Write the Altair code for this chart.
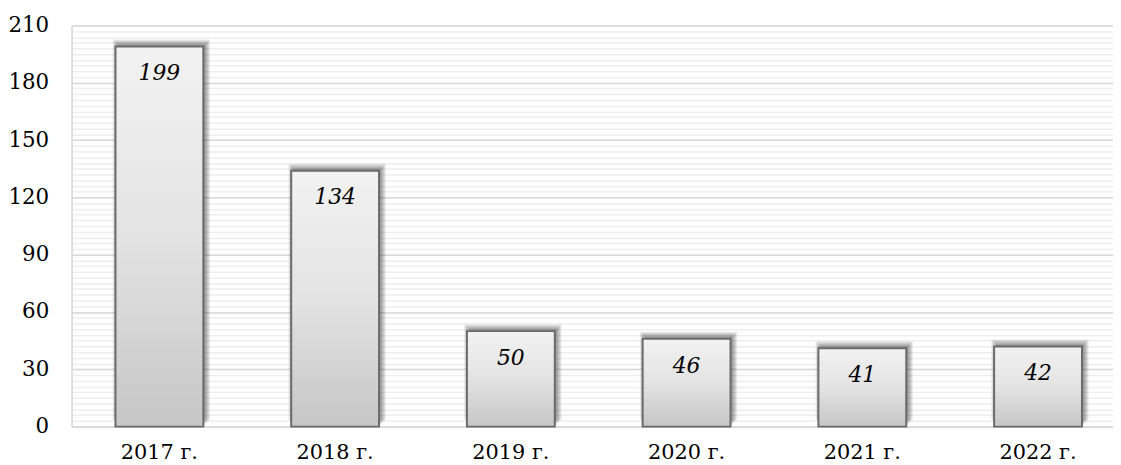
import altair as alt
import pandas as pd

years = ["2017 г.", "2018 г.", "2019 г.", "2020 г.", "2021 г.", "2022 г."]
values = [199, 134, 50, 46, 41, 42]
major_ticks = [0, 30, 60, 90, 120, 150, 180, 210]
minor_ticks = list(range(0, 211, 3))

df = pd.DataFrame({"year": years, "value": values})

FONT = "DejaVu Serif"

xscale = alt.Scale(domain=years, range=[0, 1062], paddingInner=0.5, paddingOuter=0.25)
yscale = alt.Scale(domain=[0, 210], nice=False, zero=True)

base = alt.Chart(df)

xenc_plain = alt.X("year:N", scale=xscale, sort=years, axis=None)
yenc_plain = alt.Y("value:Q", scale=yscale, axis=None)

minor = base.mark_bar(opacity=0).encode(
    x=xenc_plain,
    y=alt.Y("value:Q", scale=yscale,
            axis=alt.Axis(values=minor_ticks, labels=False, ticks=False, domain=False,
                          grid=True, gridColor="#eeeeee", gridWidth=1.5, title=None,
                          orient="left")),
)

major = base.mark_bar(opacity=0).encode(
    x=alt.X("year:N", scale=xscale, sort=years,
            axis=alt.Axis(title=None, labelAngle=0, ticks=False, domain=True,
                          domainColor="#d9d9d9", domainWidth=2,
                          labelFont=FONT, labelFontSize=21, labelColor="#000000",
                          labelPadding=15, grid=False, orient="bottom")),
    y=alt.Y("value:Q", scale=yscale,
            axis=alt.Axis(values=major_ticks, ticks=False, domain=True,
                          domainColor="#d9d9d9", domainWidth=1.5,
                          grid=True, gridColor="#d9d9d9", gridWidth=1.5, title=None,
                          labelFont=FONT, labelFontSize=21.5, labelColor="#000000",
                          labelPadding=23, orient="left")),
)

shadows = []
for k in range(1, 7):
    shadows.append(
        base.mark_bar(color="#000000", opacity=0.08, size=86 + 2 * k,
                      xOffset=2, yOffset=-(1 + k)).encode(
            x=xenc_plain,
            y=yenc_plain,
        )
    )

grad = alt.Gradient(
    gradient="linear",
    stops=[alt.GradientStop(color="#f2f2f2", offset=0),
           alt.GradientStop(color="#e3e3e3", offset=0.5),
           alt.GradientStop(color="#c6c6c6", offset=1)],
    x1=0, x2=0, y1=0, y2=1,
)

bars = base.mark_bar(color=grad, stroke="#6b6b6b", strokeWidth=2).encode(
    x=xenc_plain,
    y=yenc_plain,
)

labels = base.mark_text(font=FONT, fontStyle="italic", fontSize=22, dy=27,
                        baseline="middle", color="#000000").encode(
    x=xenc_plain,
    y=yenc_plain,
    text=alt.Text("value:Q"),
)

chart = alt.layer(minor, major, *shadows, bars, labels).resolve_axis(
    y="independent", x="independent"
).properties(
    width=1049, height=404,
    autosize=alt.AutoSizeParams(type="none"),
    padding={"left": 64, "top": 16, "right": 0, "bottom": 37},
).configure_view(stroke=None).configure(background="#ffffff")

chart.save("out.html", embed_options={"renderer": "svg", "actions": False})
